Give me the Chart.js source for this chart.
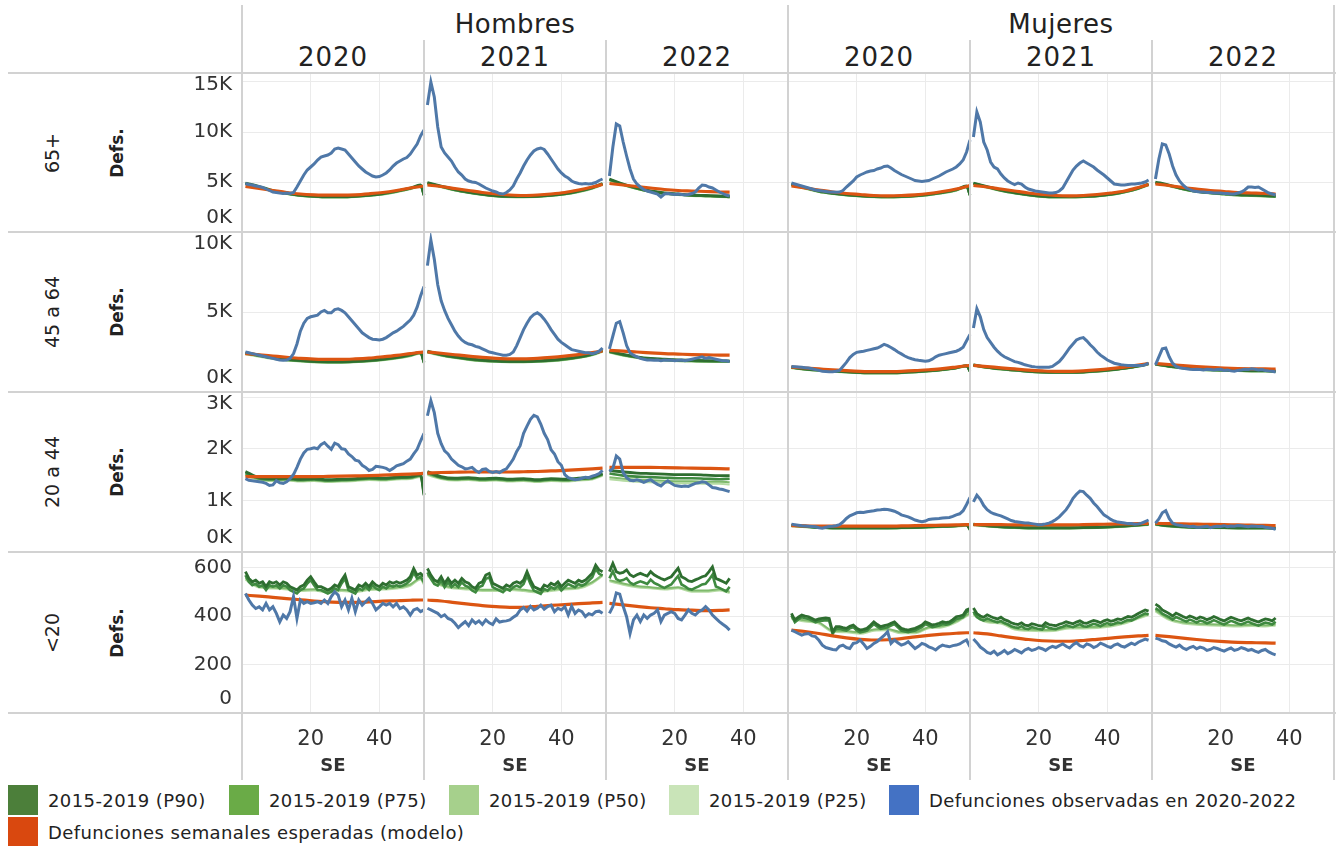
<!DOCTYPE html>
<html lang="es">
<head>
<meta charset="utf-8">
<title>Defunciones semanales por sexo y grupo de edad</title>
<script src="https://cdn.jsdelivr.net/npm/chart.js@4.4.1/dist/chart.umd.min.js"></script>
<style>
  html, body { margin: 0; padding: 0; background: #fff; }
  #wrap { position: relative; width: 1336px; height: 846px; overflow: hidden;
          font-family: "DejaVu Sans", sans-serif; color: #222; }
  #wrap canvas { position: absolute; z-index: 1; }
  .t { position: absolute; white-space: nowrap; transform: translate(-50%, -50%); z-index: 3; }
  .rot { transform: translate(-50%, -50%) rotate(-90deg); }
  .hl { position: absolute; height: 2px; background: #d2d2d2; z-index: 2; }
  .vl { position: absolute; width: 2px; background: #d2d2d2; z-index: 2; }
  .sw { position: absolute; width: 30px; height: 30px; }
  .lt { position: absolute; font-size: 18px; letter-spacing: 0.4px; white-space: nowrap; transform: translateY(-50%); }
</style>
</head>
<body>
<div id="wrap"></div>
<script>
// ---- categories ----
const SEXES = ['Hombres', 'Mujeres'];
const YEARS = ['2020', '2021', '2022'];
const AGE_GROUPS = ['65+', '45 a 64', '20 a 44', '<20'];
const SERIES_NAMES = ['2015-2019 (P90)', '2015-2019 (P75)', '2015-2019 (P50)', '2015-2019 (P25)',
                      'Defunciones observadas en 2020-2022', 'Defunciones semanales esperadas (modelo)'];

// epidemiological weeks at which the smooth reference series are listed
const SAMPLE_WEEKS = [
  [1, 5, 9, 13, 17, 21, 25, 29, 33, 37, 41, 45, 49, 52, 53],
  [1, 5, 9, 13, 17, 21, 25, 29, 33, 37, 41, 45, 49, 52],
  [1, 5, 9, 13, 17, 21, 25, 29, 33, 36]
];

// ---- axis ticks ----
const X_TICKS = [20, 40];
const Y_TICKS_65 = [0, 5000, 10000, 15000];
const Y_LABELS_65 = ['0K', '5K', '10K', '15K'];
const Y_TICKS_45 = [0, 5000, 10000];
const Y_LABELS_45 = ['0K', '5K', '10K'];
const Y_TICKS_20 = [0, 1000, 2000, 3000];
const Y_LABELS_20 = ['0K', '1K', '2K', '3K'];
const Y_TICKS_0 = [0, 200, 400, 600];
const Y_LABELS_0 = ['0', '200', '400', '600'];

// ================= Hombres, 65+ =================
const H65_OBS = [
  [4850,4750,4700,4600,4550,4450,4300,4150,4000,3950,3900,3850,3900,3850,3950,4500,5100,5700,6200,6500,
   6800,7200,7500,7600,7700,7900,8300,8400,8300,8200,7800,7400,7000,6600,6300,6000,5800,5600,5500,5550,
   5700,5900,6200,6600,6900,7100,7300,7450,7800,8300,8800,9600,10200],
  [12700,15000,13500,10500,8500,7900,7500,7100,6500,6000,5700,5300,5100,5000,4950,4800,4600,4400,4250,4100,
   4000,3850,3800,3950,4200,4600,5300,5900,6600,7200,7700,8100,8300,8400,8250,7800,7300,6800,6300,5900,
   5600,5400,5100,4950,4850,4800,4850,4800,4850,4950,5150,5300],
  [5600,8500,10800,10600,9000,7600,6300,5300,4800,4500,4250,4100,4000,3900,3800,3500,3800,3850,3800,3750,
   3800,3750,3700,3750,3850,4000,4400,4700,4650,4500,4400,4200,4000,3850,3700,3600]
];
const H65_EXP = [
  [4550,4350,4150,3950,3800,3720,3680,3680,3720,3820,3950,4150,4400,4550,4600],
  [4700,4550,4350,4150,3950,3800,3700,3650,3700,3800,3950,4200,4500,4750],
  [4850,4700,4550,4400,4250,4150,4100,4050,4000,3980]
];
const H65_P90 = [
  [4900,4550,4150,3900,3700,3600,3550,3550,3600,3700,3850,4100,4400,4700,3700],
  [4950,4600,4250,4000,3800,3650,3580,3560,3600,3700,3850,4100,4450,4850],
  [5300,4800,4400,4100,3900,3800,3700,3650,3600,3550]
];
const H65_P75 = [
  [4850,4500,4110,3860,3660,3560,3510,3510,3560,3660,3810,4060,4350,4650,3670],
  [4900,4550,4210,3960,3760,3610,3540,3520,3560,3660,3810,4060,4400,4800],
  [5250,4760,4360,4060,3860,3760,3660,3610,3560,3510]
];
const H65_P50 = [
  [4800,4460,4070,3820,3630,3530,3480,3480,3530,3630,3770,4020,4310,4600,3640],
  [4850,4510,4170,3920,3730,3580,3510,3490,3530,3630,3770,4020,4360,4750],
  [5200,4720,4320,4020,3830,3730,3630,3580,3530,3480]
];
const H65_P25 = [
  [4760,4420,4040,3790,3600,3500,3450,3450,3500,3600,3740,3980,4270,4560,3610],
  [4810,4470,4140,3890,3700,3550,3480,3460,3500,3600,3740,3980,4320,4710],
  [5160,4680,4290,3990,3800,3700,3600,3550,3500,3450]
];

// ================= Hombres, 45 a 64 =================
const H45_OBS = [
  [2500,2450,2400,2350,2300,2250,2200,2150,2100,2050,2000,1980,2000,2100,2400,3000,3800,4300,4600,4700,
   4750,4800,5000,5100,4950,4950,5150,5200,5100,4950,4700,4450,4200,3950,3700,3550,3400,3300,3280,3250,
   3300,3400,3550,3700,3800,3950,4100,4300,4500,4800,5300,6000,6600],
  [7900,9500,8300,6700,5700,5100,4600,4200,3800,3500,3250,3100,3000,2950,2850,2800,2700,2600,2500,2450,
   2400,2350,2300,2300,2350,2500,2900,3400,3900,4300,4650,4850,4950,4800,4550,4250,3900,3600,3300,3100,
   2950,2800,2650,2600,2550,2500,2450,2450,2400,2450,2550,2750],
  [2700,3500,4300,4400,3700,2900,2450,2300,2200,2100,2050,2000,2000,1980,2000,1950,2000,1980,2000,1950,
   1980,2000,1950,2000,2050,2100,2150,2200,2100,2150,2100,2050,2000,1950,1950,1900]
];
const H45_EXP = [
  [2400,2330,2250,2170,2100,2060,2040,2040,2070,2120,2200,2290,2400,2480,2500],
  [2500,2420,2330,2240,2160,2100,2070,2070,2100,2160,2240,2340,2460,2560],
  [2600,2560,2500,2450,2400,2370,2340,2320,2310,2300]
];
const H45_P90 = [
  [2450,2300,2150,2050,1980,1920,1900,1900,1930,1980,2060,2170,2330,2480,1850],
  [2550,2350,2200,2080,2000,1950,1920,1920,1950,2000,2080,2200,2380,2600],
  [2550,2350,2200,2100,2050,2000,1980,1960,1950,1950]
];
const H45_P75 = [
  [2420,2270,2120,2020,1950,1890,1870,1870,1900,1950,2030,2140,2300,2450,1830],
  [2520,2320,2170,2050,1970,1920,1890,1890,1920,1970,2050,2170,2350,2570],
  [2520,2320,2170,2070,2020,1970,1950,1930,1920,1920]
];
const H45_P50 = [
  [2390,2240,2090,1990,1920,1870,1850,1850,1880,1920,2000,2110,2270,2420,1810],
  [2490,2290,2140,2020,1940,1900,1870,1870,1900,1940,2020,2140,2320,2540],
  [2490,2290,2140,2040,1990,1940,1920,1900,1890,1890]
];
const H45_P25 = [
  [2360,2210,2060,1970,1900,1850,1830,1830,1860,1900,1980,2090,2240,2390,1790],
  [2460,2270,2120,2000,1920,1880,1850,1850,1880,1920,2000,2120,2290,2510],
  [2460,2270,2120,2020,1970,1920,1900,1880,1870,1870]
];

// ================= Hombres, 20 a 44 =================
const H20_OBS = [
  [1420,1390,1380,1370,1360,1350,1330,1290,1300,1380,1340,1330,1360,1420,1500,1640,1800,1920,1990,2000,
   2020,2000,2080,2120,2050,1990,2110,2080,2000,1990,1900,1850,1780,1760,1680,1640,1580,1600,1660,1650,
   1640,1620,1580,1620,1670,1690,1710,1760,1800,1900,1990,2150,2300],
  [2640,2930,2700,2300,2100,1960,1900,1800,1740,1680,1650,1610,1620,1640,1580,1540,1600,1610,1560,1540,
   1560,1540,1580,1610,1700,1800,1950,2060,2300,2440,2570,2650,2620,2480,2300,2180,1980,1900,1750,1680,
   1500,1440,1420,1400,1410,1430,1450,1440,1470,1490,1520,1580],
  [1560,1620,1860,1800,1540,1440,1390,1380,1400,1380,1350,1380,1400,1350,1310,1280,1340,1380,1330,1290,
   1280,1270,1280,1270,1300,1330,1340,1360,1350,1300,1250,1240,1220,1210,1190,1170]
];
const H20_EXP = [
  [1460,1460,1460,1460,1460,1460,1465,1470,1475,1480,1490,1500,1510,1520,1525],
  [1530,1540,1545,1550,1550,1550,1550,1555,1560,1570,1580,1595,1610,1625],
  [1640,1640,1640,1640,1635,1630,1625,1620,1615,1610]
];
const H20_P90 = [
  [1560,1440,1420,1430,1410,1420,1400,1410,1420,1440,1430,1450,1460,1500,1100],
  [1560,1460,1430,1440,1420,1430,1410,1420,1400,1420,1410,1430,1450,1520],
  [1580,1550,1530,1520,1510,1500,1500,1490,1480,1480]
];
const H20_P75 = [
  [1530,1425,1405,1415,1395,1405,1385,1395,1405,1425,1415,1435,1445,1485,1120],
  [1535,1445,1415,1425,1405,1415,1395,1405,1385,1405,1395,1415,1435,1505],
  [1520,1480,1460,1450,1440,1430,1430,1420,1410,1420]
];
const H20_P50 = [
  [1500,1410,1390,1400,1380,1390,1370,1380,1390,1410,1400,1420,1430,1470,1140],
  [1510,1430,1400,1410,1390,1400,1380,1390,1370,1390,1380,1400,1420,1490],
  [1450,1420,1400,1390,1380,1370,1370,1360,1360,1350]
];
const H20_P25 = [
  [1480,1395,1375,1385,1365,1375,1355,1365,1375,1395,1385,1405,1415,1455,1160],
  [1490,1415,1385,1395,1375,1385,1365,1375,1355,1375,1365,1385,1405,1475],
  [1410,1380,1360,1350,1340,1330,1330,1320,1320,1310]
];

// ================= Hombres, <20 =================
const H0_OBS = [
  [493,466,445,431,438,425,452,425,438,411,376,404,390,418,480,390,466,452,459,452,
   455,459,452,466,452,480,500,486,438,466,425,473,418,466,445,459,473,452,425,438,
   452,445,452,438,452,431,438,425,404,425,431,418,425],
  [432,425,418,411,397,405,390,384,370,352,365,377,360,384,370,380,365,384,372,365,
   388,375,378,380,384,395,404,425,435,420,440,425,432,445,428,439,445,418,432,425,
   439,404,440,411,425,418,398,410,405,418,420,411],
  [411,439,495,490,440,397,328,384,404,377,404,390,404,411,425,377,404,411,418,411,
   390,384,404,425,411,404,418,425,439,425,404,390,377,366,356,342]
];
const H0_EXP = [
  [486,482,477,472,467,462,458,456,456,458,461,463,465,466,466],
  [466,462,455,449,443,439,436,436,440,444,447,451,454,456],
  [452,446,440,434,430,426,424,422,423,425]
];
const H0_P90 = [
  [583,555,541,548,535,541,521,541,535,541,528,541,535,521,514,507,521,528,548,562,
   541,521,521,514,507,514,528,521,548,569,521,514,507,528,521,535,521,541,528,521,
   535,528,541,535,541,535,541,548,562,596,569,576,562],
  [596,569,548,541,562,535,555,535,548,535,555,541,535,521,514,535,541,569,576,535,
   528,521,514,528,521,535,541,535,548,583,548,521,514,507,528,521,535,528,541,521,
   535,548,541,535,548,541,548,562,576,610,590,583],
  [583,617,583,576,580,590,570,562,570,576,570,565,583,570,562,555,549,556,562,580,
   597,562,555,545,542,549,555,562,566,583,603,555,549,542,535,555]
];
const H0_P75 = [
  [568,540,527,533,521,527,507,527,521,527,514,527,521,507,500,493,507,514,534,548,
   527,507,507,500,493,500,514,507,534,555,507,500,493,514,507,521,507,527,514,507,
   521,514,527,521,527,521,527,534,548,580,555,562,540],
  [580,553,532,525,546,519,539,519,532,519,539,525,519,505,498,519,525,553,560,519,
   512,505,498,512,505,519,525,519,532,567,532,505,498,491,512,505,519,512,525,505,
   519,532,525,519,532,525,532,546,560,594,574,567],
  [555,585,552,545,548,556,538,530,537,543,538,532,550,537,530,522,516,523,530,548,
   565,530,522,512,509,516,522,530,533,550,570,522,516,509,502,520]
];
const H0_P50 = [
  [556,522,518,514,508,510,502,508,504,512,514,518,530,556,534],
  [570,530,518,514,508,508,512,508,502,508,514,518,540,570],
  [548,534,524,519,514,519,505,505,510,500]
];
const H0_P25 = [
  [550,517,513,509,503,505,497,503,499,507,509,513,525,551,529],
  [565,525,513,509,503,503,507,503,497,503,509,513,535,565],
  [543,529,519,514,509,514,500,500,505,495]
];

// ================= Mujeres, 65+ =================
const M65_OBS = [
  [4900,4800,4700,4600,4500,4400,4300,4200,4150,4100,4050,4000,4000,3980,4000,4150,4500,4800,5100,5500,
   5700,5850,6000,6100,6150,6300,6400,6550,6600,6400,6150,5950,5750,5600,5450,5300,5150,5100,5050,5100,
   5150,5300,5450,5600,5800,6000,6150,6300,6500,6800,7200,8000,9200],
  [9500,12000,11000,9000,8200,7000,6500,6300,5800,5400,5100,4900,4750,4900,4800,4500,4300,4200,4100,4050,
   4000,3950,3900,3900,3950,4100,4400,5000,5600,6200,6600,6900,7100,6900,6700,6500,6200,5950,5700,5400,
   5100,4800,4750,4700,4700,4750,4800,4800,4850,4900,5000,5200],
  [5300,7300,8800,8700,7800,6600,5700,5100,4700,4400,4250,4100,4050,4000,4000,3950,3950,3900,3900,3900,
   3850,3850,3800,3800,3900,4000,4200,4500,4500,4450,4500,4300,4100,3900,3800,3700]
];
const M65_EXP = [
  [4600,4400,4200,4000,3850,3750,3650,3620,3650,3720,3850,4050,4300,4550,4650],
  [4650,4500,4300,4100,3900,3750,3650,3620,3650,3750,3900,4100,4450,4750],
  [4800,4650,4450,4300,4150,4050,3950,3900,3850,3800]
];
const M65_P90 = [
  [4800,4450,4100,3900,3750,3650,3580,3550,3580,3650,3780,3980,4250,4600,3700],
  [4900,4550,4200,3950,3750,3600,3550,3550,3580,3650,3800,4050,4400,4800],
  [5000,4700,4350,4100,3950,3850,3750,3700,3650,3600]
];
const M65_P75 = [
  [4750,4410,4060,3860,3710,3610,3540,3510,3540,3610,3740,3940,4210,4550,3670],
  [4850,4510,4160,3910,3710,3560,3510,3510,3540,3610,3760,4010,4360,4750],
  [4950,4660,4310,4060,3910,3810,3710,3660,3610,3560]
];
const M65_P50 = [
  [4700,4370,4020,3820,3670,3570,3500,3470,3500,3570,3700,3900,4170,4500,3640],
  [4800,4470,4120,3870,3670,3520,3470,3470,3500,3570,3720,3970,4320,4700],
  [4900,4620,4270,4020,3870,3770,3670,3620,3570,3520]
];
const M65_P25 = [
  [4660,4330,3990,3790,3640,3540,3470,3440,3470,3540,3670,3870,4130,4460,3610],
  [4760,4430,4090,3840,3640,3490,3440,3440,3470,3540,3690,3940,4290,4660],
  [4860,4580,4240,3990,3840,3740,3640,3590,3540,3490]
];

// ================= Mujeres, 45 a 64 =================
const M45_OBS = [
  [1600,1580,1560,1540,1520,1500,1450,1400,1350,1300,1280,1260,1270,1300,1350,1600,1850,2150,2350,2480,
   2520,2550,2600,2650,2700,2750,2850,2980,2900,2780,2650,2500,2380,2250,2150,2080,2020,1980,1950,1920,
   1950,2050,2200,2300,2350,2400,2450,2500,2550,2650,2800,3200,3600],
  [4000,5200,4700,3900,3400,3100,2800,2550,2350,2200,2100,2000,1900,1850,1780,1700,1650,1600,1570,1550,
   1550,1540,1550,1600,1750,1900,2150,2450,2750,3000,3250,3350,3400,3200,2950,2750,2500,2300,2150,2000,
   1900,1800,1750,1700,1680,1650,1650,1660,1650,1650,1700,1800],
  [1700,2200,2700,2750,2200,1800,1600,1520,1480,1450,1420,1400,1420,1400,1380,1420,1400,1380,1400,1420,
   1350,1380,1320,1300,1350,1380,1420,1400,1450,1420,1380,1400,1350,1320,1300,1250]
];
const M45_EXP = [
  [1550,1500,1440,1380,1330,1290,1270,1270,1290,1330,1390,1460,1560,1640,1660],
  [1660,1590,1510,1440,1370,1320,1290,1290,1320,1380,1460,1560,1680,1780],
  [1780,1720,1650,1590,1540,1500,1470,1450,1440,1430]
];
const M45_P90 = [
  [1550,1450,1380,1320,1270,1230,1210,1210,1230,1270,1330,1410,1520,1650,1300],
  [1700,1560,1460,1380,1310,1260,1240,1240,1260,1320,1400,1500,1640,1780],
  [1750,1620,1520,1450,1400,1380,1360,1340,1330,1320]
];
const M45_P75 = [
  [1530,1430,1360,1300,1250,1210,1190,1190,1210,1250,1310,1390,1500,1630,1290],
  [1680,1540,1440,1360,1290,1240,1220,1220,1240,1300,1380,1480,1620,1760],
  [1730,1600,1500,1430,1380,1360,1340,1320,1310,1300]
];
const M45_P50 = [
  [1510,1410,1340,1280,1230,1190,1170,1170,1190,1230,1290,1370,1480,1610,1280],
  [1660,1520,1420,1340,1270,1220,1200,1200,1220,1280,1360,1460,1600,1740],
  [1710,1580,1480,1410,1360,1340,1320,1300,1290,1280]
];
const M45_P25 = [
  [1490,1395,1325,1265,1215,1175,1155,1155,1175,1215,1275,1355,1465,1595,1270],
  [1645,1505,1405,1325,1255,1205,1185,1185,1205,1265,1345,1445,1585,1725],
  [1695,1565,1465,1395,1345,1325,1305,1285,1275,1265]
];

// ================= Mujeres, 20 a 44 =================
const M20_OBS = [
  [540,530,520,510,505,500,495,490,470,460,480,495,500,510,530,580,650,700,730,760,
   770,765,780,790,800,815,820,830,825,810,790,760,720,700,680,650,620,600,585,600,
   630,640,645,650,660,665,670,690,720,740,800,920,1060],
  [970,1100,1020,900,820,770,740,720,700,670,640,610,590,580,570,560,560,550,540,530,
   535,545,560,590,630,680,750,820,920,1040,1120,1180,1170,1100,1040,950,880,800,720,680,
   630,600,580,570,560,550,550,540,545,560,590,620],
  [560,640,760,800,650,560,530,520,510,505,490,500,480,480,490,500,470,490,500,495,
   510,490,505,500,515,510,500,490,505,500,495,500,480,470,460,440]
];
const M20_EXP = [
  [510,505,500,500,500,500,500,500,505,510,515,520,525,530,530],
  [530,530,530,525,525,525,525,525,530,535,540,545,550,555],
  [555,550,545,540,535,530,525,520,515,510]
];
const M20_P90 = [
  [520,500,480,470,470,470,470,470,475,480,490,500,510,530,430],
  [540,510,490,480,470,470,470,470,475,480,490,505,525,545],
  [545,510,490,480,480,475,470,470,470,465]
];
const M20_P75 = [
  [512,493,474,465,465,465,465,465,470,474,484,494,504,523,436],
  [533,504,485,475,465,465,465,465,470,475,485,499,519,538],
  [538,504,485,475,475,470,465,465,465,460]
];
const M20_P50 = [
  [505,487,468,460,460,460,460,460,464,468,478,488,498,516,442],
  [526,498,480,470,460,460,460,460,465,470,480,494,513,531],
  [531,498,480,470,470,465,460,460,460,455]
];
const M20_P25 = [
  [498,481,463,455,455,455,455,455,459,463,472,482,492,509,447],
  [519,492,475,465,455,455,455,455,460,465,475,489,507,524],
  [524,492,475,465,465,460,455,455,455,450]
];

// ================= Mujeres, <20 =================
const M0_OBS = [
  [342,335,328,321,326,328,318,315,300,280,270,266,262,260,275,280,270,266,287,290,
   301,285,266,275,287,295,308,320,335,287,301,290,280,285,294,280,266,275,287,282,
   273,268,260,272,280,276,273,278,280,285,294,301,273],
  [305,290,272,262,250,245,255,240,248,258,245,252,262,255,248,260,266,258,262,270,
   265,258,268,275,270,278,285,275,268,282,290,278,272,285,280,270,276,288,282,275,
   270,280,285,276,272,280,288,282,292,298,305,300],
  [309,305,298,295,285,278,272,280,268,262,270,275,265,272,268,258,262,270,266,260,
   255,262,268,258,262,270,265,258,262,255,250,258,262,252,245,240]
];
const M0_EXP = [
  [342,336,328,318,310,304,301,302,307,314,320,325,329,331,331],
  [331,326,318,310,303,298,296,296,299,304,309,314,318,320],
  [320,315,309,303,298,294,291,290,289,288]
];
const M0_P90 = [
  [411,383,395,404,400,397,390,383,388,390,392,390,335,356,356,352,349,358,363,350,
   342,345,349,362,376,365,356,360,363,370,376,362,349,345,342,346,349,356,363,376,
   370,363,366,370,376,373,376,385,397,400,404,425,431],
  [433,410,400,395,405,398,392,388,395,385,380,372,368,365,372,362,360,368,365,360,
   358,372,365,362,360,366,370,376,372,368,375,380,372,370,376,382,378,372,380,385,
   378,382,388,385,392,398,395,402,410,418,425,420],
  [449,440,425,418,410,400,412,405,398,392,400,395,388,396,392,385,390,398,392,385,
   380,388,395,390,384,380,386,392,385,380,375,382,388,385,380,392]
];
const M0_P75 = [
  [402,374,386,395,391,388,381,374,379,381,383,381,326,347,347,343,340,349,354,341,
   333,336,340,353,367,356,347,351,354,361,367,353,340,336,333,337,340,347,354,367,
   361,354,357,361,367,364,367,376,388,391,395,416,422],
  [418,396,386,381,390,384,378,374,380,371,366,358,354,351,358,348,346,354,351,346,
   344,358,351,348,346,352,356,362,358,354,361,366,358,356,362,368,364,358,366,371,
   364,368,374,371,378,384,381,388,396,404,411,406],
  [432,424,410,403,395,385,396,390,383,377,385,380,373,381,377,370,375,383,377,370,
   365,373,380,375,369,365,371,377,370,365,360,367,373,370,365,376]
];
const M0_P50 = [
  [394,382,374,340,338,332,344,346,334,334,354,359,379,404,414],
  [409,379,374,349,344,342,344,354,354,356,362,374,394,409],
  [424,389,374,369,366,364,362,364,362,366]
];
const M0_P25 = [
  [389,377,369,335,333,327,339,341,329,329,349,354,374,399,409],
  [404,374,369,344,339,337,339,349,349,351,357,369,389,404],
  [419,384,369,364,361,359,357,359,357,361]
];

// ---- styling ----
const COLORS = {
  p90: '#2e6e30', p75: '#3f8a40', p50: '#7fba6c', p25: '#b5dba3',
  obs: '#4f78a8', exp: '#dc5512'
};
const LEGEND_COLORS = ['#4c7f3a', '#6aab47', '#a6d08c', '#c9e4b8', '#4472c4', '#d9480f'];
const FONT = '"DejaVu Sans", sans-serif';
const PANE_WEEKS = 53;

// table of panels built from the named series above
const PANELS = [
  { col: 0, row: 0, obs: H65_OBS, exp: H65_EXP, p90: H65_P90, p75: H65_P75, p50: H65_P50, p25: H65_P25 },
  { col: 0, row: 1, obs: H45_OBS, exp: H45_EXP, p90: H45_P90, p75: H45_P75, p50: H45_P50, p25: H45_P25 },
  { col: 0, row: 2, obs: H20_OBS, exp: H20_EXP, p90: H20_P90, p75: H20_P75, p50: H20_P50, p25: H20_P25 },
  { col: 0, row: 3, obs: H0_OBS,  exp: H0_EXP,  p90: H0_P90,  p75: H0_P75,  p50: H0_P50,  p25: H0_P25 },
  { col: 1, row: 0, obs: M65_OBS, exp: M65_EXP, p90: M65_P90, p75: M65_P75, p50: M65_P50, p25: M65_P25 },
  { col: 1, row: 1, obs: M45_OBS, exp: M45_EXP, p90: M45_P90, p75: M45_P75, p50: M45_P50, p25: M45_P25 },
  { col: 1, row: 2, obs: M20_OBS, exp: M20_EXP, p90: M20_P90, p75: M20_P75, p50: M20_P50, p25: M20_P25 },
  { col: 1, row: 3, obs: M0_OBS,  exp: M0_EXP,  p90: M0_P90,  p75: M0_P75,  p50: M0_P50,  p25: M0_P25 }
];
const ROW_AXES = [
  { max: 15900, ticks: Y_TICKS_65, labels: Y_LABELS_65 },
  { max: 10000, ticks: Y_TICKS_45, labels: Y_LABELS_45 },
  { max: 3100,  ticks: Y_TICKS_20, labels: Y_LABELS_20 },
  { max: 664,   ticks: Y_TICKS_0,  labels: Y_LABELS_0 }
];

// ---- page frame ----
const ROW_TOP = [73, 232, 392, 552];
const ROW_BOTTOM = [232, 392, 552, 713];
const wrap = document.getElementById('wrap');

function addDiv(cls, css, text) {
  const d = document.createElement('div');
  d.className = cls;
  Object.assign(d.style, css);
  if (text !== undefined) d.textContent = text;
  wrap.appendChild(d);
  return d;
}

// headers
SEXES.forEach((s, i) => {
  const x0 = 242 + i * 546;
  addDiv('t', { left: (x0 + 273) + 'px', top: '24px', fontSize: '26px', letterSpacing: '0.5px' }, s);
  YEARS.forEach((y, k) => {
    addDiv('t', { left: (x0 + 91 + k * 182) + 'px', top: '57px', fontSize: '26px', letterSpacing: '1px' }, y);
  });
});
// row labels
AGE_GROUPS.forEach((a, r) => {
  const cy = (ROW_TOP[r] + ROW_BOTTOM[r]) / 2;
  addDiv('t rot', { left: '52px', top: cy + 'px', fontSize: '19px' }, a);
  addDiv('t rot', { left: '117px', top: cy + 'px', fontSize: '17px', fontWeight: 'bold' }, 'Defs.');
});
// frame lines
[73, 232, 392, 552, 713].forEach(y => addDiv('hl', { left: '8px', top: (y - 1) + 'px', width: '1328px' }));
[242, 788, 1334].forEach(x => addDiv('vl', { left: (x - 1) + 'px', top: '5px', height: '775px' }));
[424, 606, 970, 1152].forEach(x => addDiv('vl', { left: (x - 1) + 'px', top: '40px', height: '740px' }));

// legend
const LEGEND_POS = [[8, 800], [229, 800], [449, 800], [669, 800], [889, 800], [8, 832]];
SERIES_NAMES.forEach((name, i) => {
  const [x, y] = LEGEND_POS[i];
  addDiv('sw', { left: x + 'px', top: (y - 15) + 'px', background: LEGEND_COLORS[i] });
  addDiv('lt', { left: (x + 40) + 'px', top: y + 'px' }, name);
});

// ---- charts ----
function toPoints(years) {
  const pts = [];
  years.forEach((vals, k) => {
    const weeks = vals.length === SAMPLE_WEEKS[k].length ? SAMPLE_WEEKS[k] : vals.map((_, i) => i + 1);
    vals.forEach((v, i) => pts.push({ x: k * PANE_WEEKS + weeks[i], y: v }));
    pts.push({ x: (k + 1) * PANE_WEEKS, y: null });
  });
  return pts;
}
function isSmooth(years) {
  return years.every((vals, k) => vals.length === SAMPLE_WEEKS[k].length);
}
function lineDataset(label, years, color, width) {
  const smooth = isSmooth(years);
  return {
    label, data: toPoints(years), borderColor: color, borderWidth: width,
    pointRadius: 0, fill: false, spanGaps: false,
    tension: smooth ? 0.4 : 0, cubicInterpolationMode: smooth ? 'monotone' : 'default'
  };
}

const axisText = {
  id: 'axisText',
  afterDraw(chart, args, opts) {
    const { ctx, chartArea, scales } = chart;
    ctx.save();
    ctx.fillStyle = '#333';
    if (opts.yLabels) {
      ctx.font = '20px ' + FONT;
      ctx.textAlign = 'right';
      ctx.textBaseline = 'middle';
      opts.yTicks.forEach((v, i) => {
        let y = scales.y.getPixelForValue(v);
        y = Math.min(Math.max(y, chartArea.top + 12), chartArea.bottom - 14);
        ctx.fillText(opts.yLabels[i], chartArea.left - 10, y);
      });
    }
    if (opts.xLabels) {
      ctx.textAlign = 'center';
      ctx.textBaseline = 'middle';
      for (let k = 0; k < YEARS.length; k++) {
        ctx.font = '21px ' + FONT;
        X_TICKS.forEach(t => {
          ctx.fillText(String(t), scales.x.getPixelForValue(k * PANE_WEEKS + t), chartArea.bottom + 27);
        });
        ctx.font = 'bold 18px ' + FONT;
        ctx.fillText('SE', scales.x.getPixelForValue(k * PANE_WEEKS + PANE_WEEKS / 2), chartArea.bottom + 53);
      }
    }
    ctx.restore();
  }
};

const X_GRID = [];
for (let k = 0; k < YEARS.length; k++) X_TICKS.forEach(t => X_GRID.push(k * PANE_WEEKS + t));

PANELS.forEach(p => {
  const axis = ROW_AXES[p.row];
  const left = p.col === 0 ? 130 : 788;
  const width = p.col === 0 ? 658 : 546;
  const yAxisW = p.col === 0 ? 112 : 0;
  const top = ROW_TOP[p.row];
  const plotH = ROW_BOTTOM[p.row] - top;
  const xAxisH = p.row === 3 ? 67 : 0;
  const c = document.createElement('canvas');
  c.width = width;
  c.height = plotH + xAxisH;
  c.style.left = left + 'px';
  c.style.top = top + 'px';
  wrap.appendChild(c);

  new Chart(c, {
    type: 'line',
    data: {
      datasets: [
        lineDataset(SERIES_NAMES[4], p.obs, COLORS.obs, 3),
        lineDataset(SERIES_NAMES[5], p.exp, COLORS.exp, 3.2),
        lineDataset(SERIES_NAMES[0], p.p90, COLORS.p90, 2.8),
        lineDataset(SERIES_NAMES[1], p.p75, COLORS.p75, 2.6),
        lineDataset(SERIES_NAMES[2], p.p50, COLORS.p50, 2),
        lineDataset(SERIES_NAMES[3], p.p25, COLORS.p25, 2)
      ]
    },
    options: {
      responsive: false,
      animation: false,
      devicePixelRatio: 1,
      layout: { padding: 0 },
      events: [],
      plugins: {
        legend: { display: false },
        tooltip: { enabled: false },
        axisText: {
          yLabels: p.col === 0 ? axis.labels : null,
          yTicks: axis.ticks,
          xLabels: p.row === 3
        }
      },
      scales: {
        x: {
          type: 'linear', min: 0, max: PANE_WEEKS * YEARS.length,
          border: { display: false },
          grid: { color: '#ebebeb', lineWidth: 1, drawTicks: false },
          ticks: { display: false },
          afterBuildTicks: s => { s.ticks = X_GRID.map(v => ({ value: v })); },
          afterFit: s => { s.height = xAxisH; }
        },
        y: {
          type: 'linear', min: 0, max: axis.max,
          border: { display: false },
          grid: { color: '#ebebeb', lineWidth: 1, drawTicks: false },
          ticks: { display: false },
          afterBuildTicks: s => { s.ticks = axis.ticks.map(v => ({ value: v })); },
          afterFit: s => { s.width = yAxisW; }
        }
      }
    },
    plugins: [axisText]
  });
});
</script>
</body>
</html>
